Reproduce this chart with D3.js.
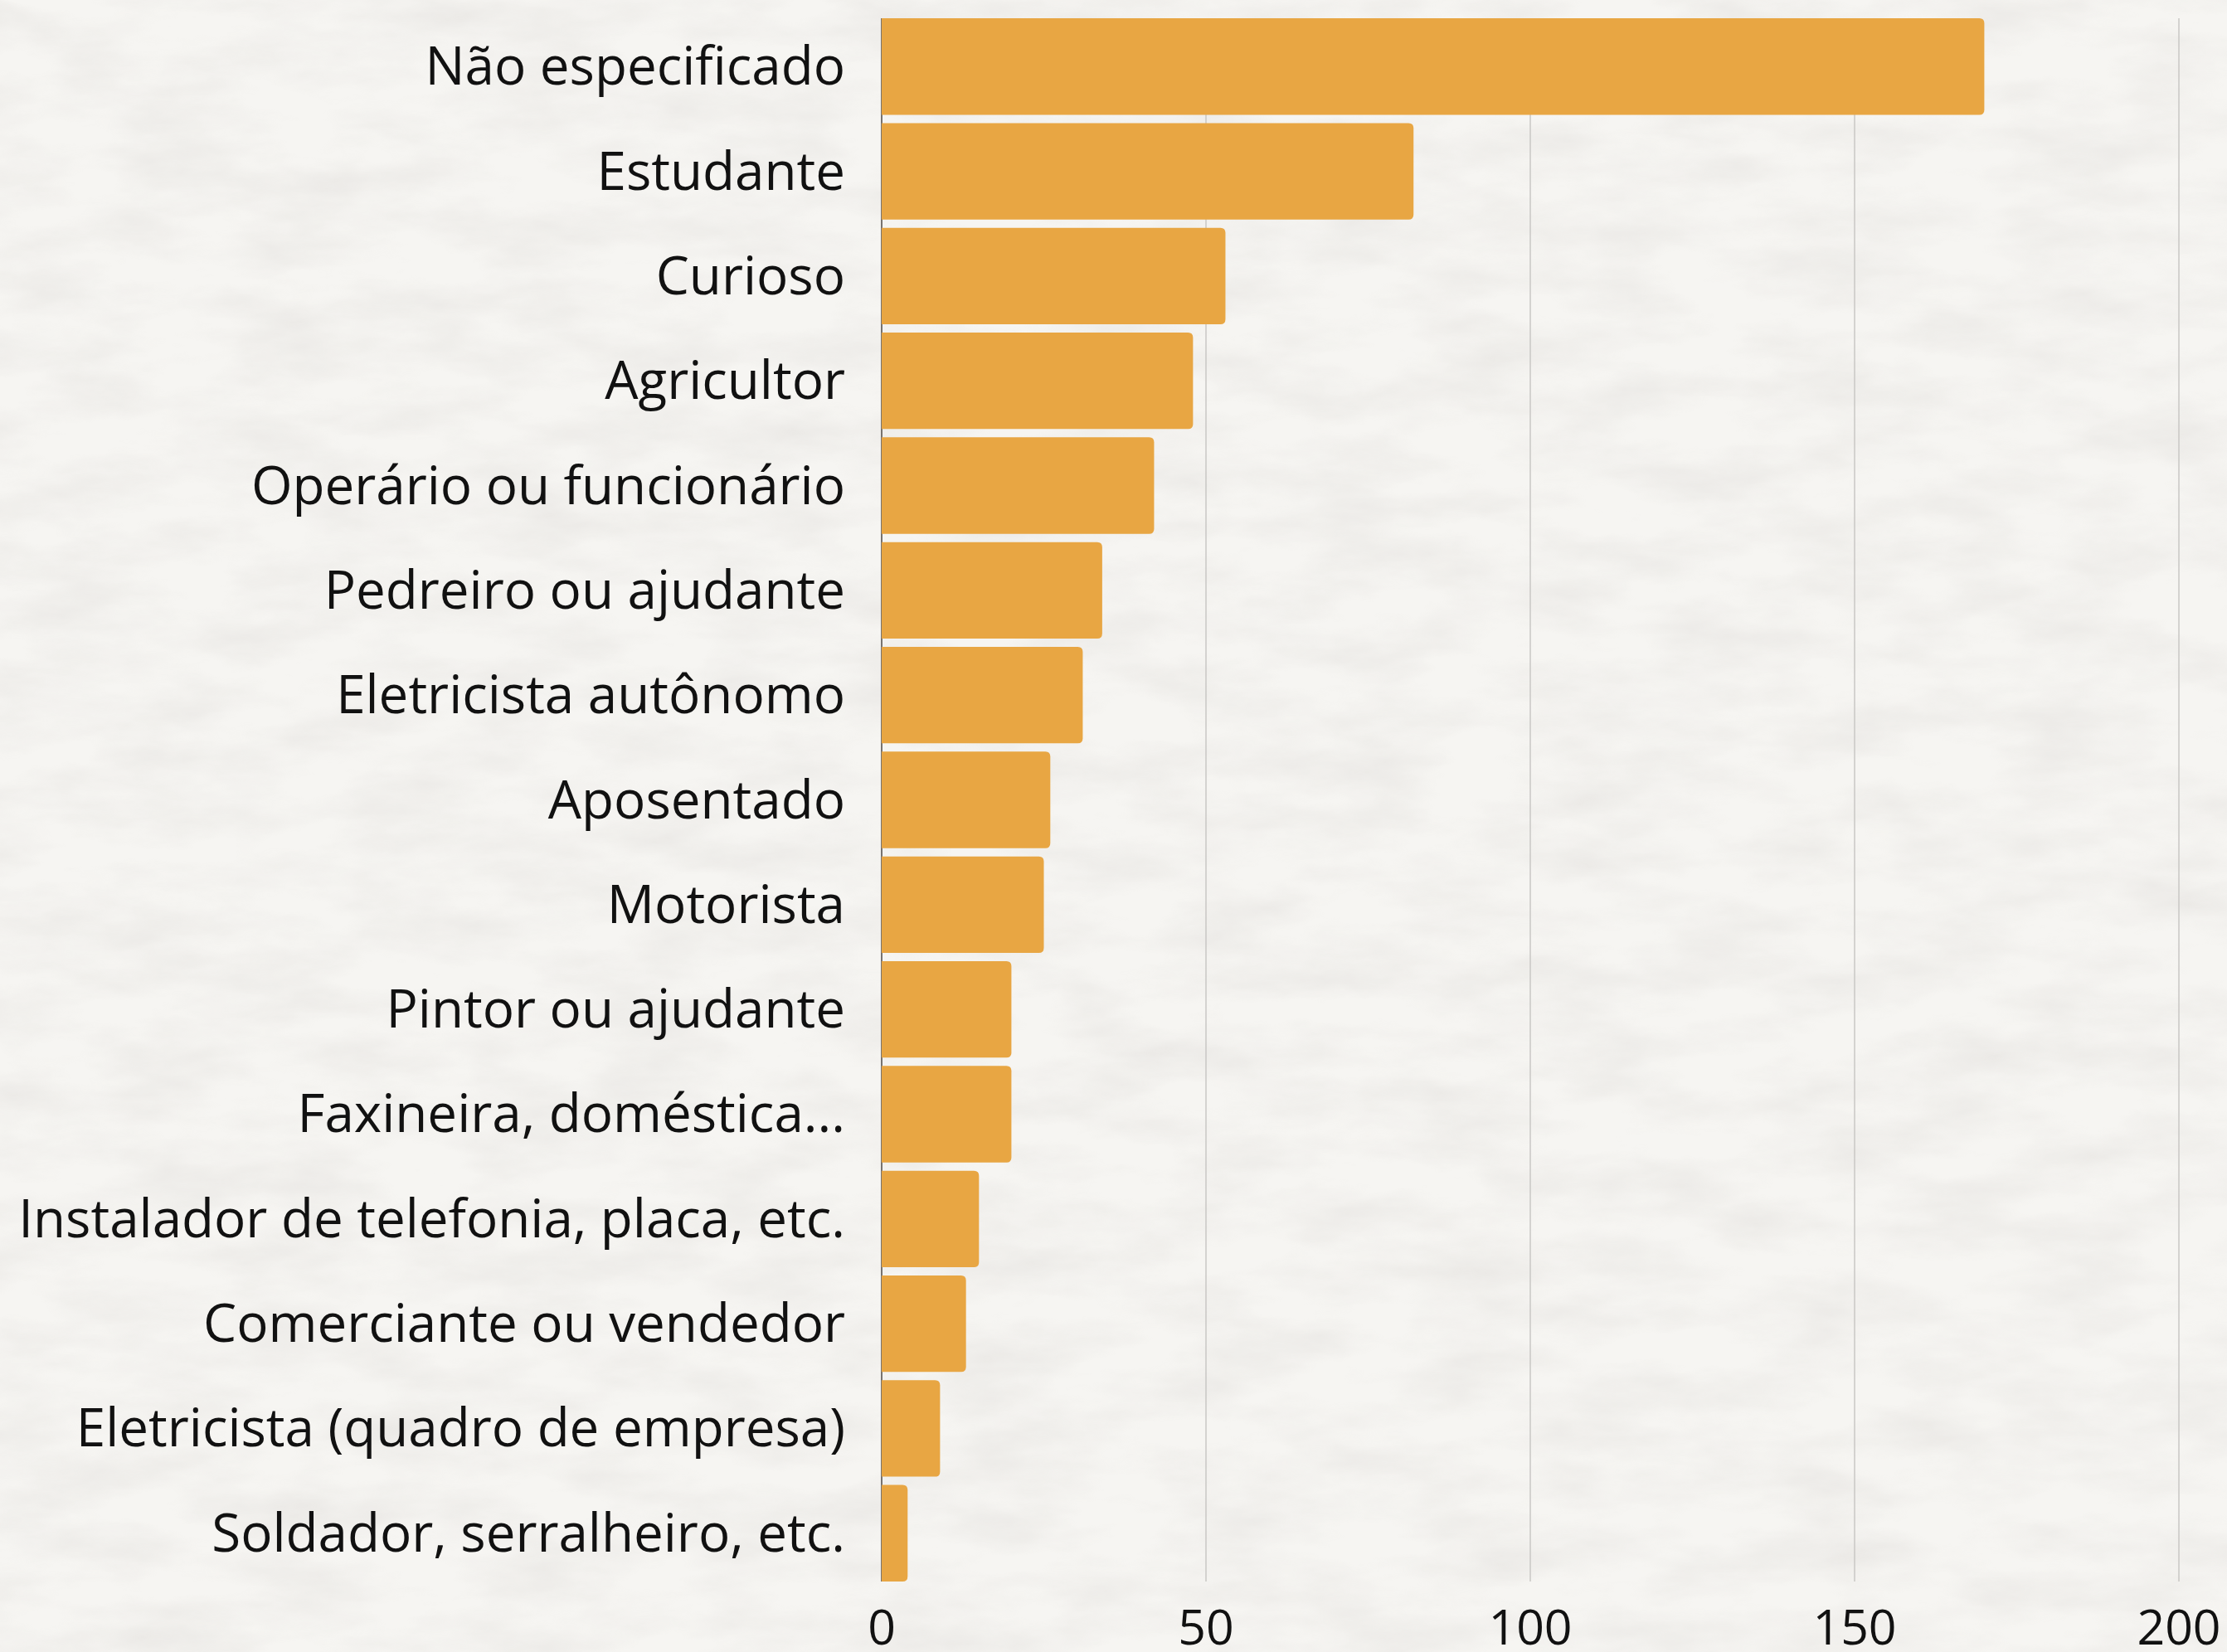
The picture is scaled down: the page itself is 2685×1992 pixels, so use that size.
<!DOCTYPE html>
<html>
<head>
<meta charset="utf-8">
<script src="https://cdn.jsdelivr.net/npm/d3@7"></script>
<style>
body{margin:0;padding:0;background:#f4f3f0;overflow:hidden;}
svg{display:block;}
</style>
</head>
<body>
<script>
// data
var categories = ["Não especificado","Estudante","Curioso","Agricultor","Operário ou funcionário",
    "Pedreiro ou ajudante","Eletricista autônomo","Aposentado","Motorista","Pintor ou ajudante",
    "Faxineira, doméstica...","Instalador de telefonia, placa, etc.","Comerciante ou vendedor",
    "Eletricista (quadro de empresa)","Soldador, serralheiro, etc."];
var values = [170,82,53,48,42,34,31,26,25,20,20,15,13,9,4];
var tickValues = [0,50,100,150,200];

var width = 2685, height = 1992;
var margin = {left:1063, right:58, top:17, bottom:75};
var barColor = "#e8a643";

function makeVisualization(){//build the chart
    var svg = d3.select("body").append("svg")//canvas
        .attr("width", width)
        .attr("height", height);

    // paper texture background
    var defs = svg.append("defs");
    var filt = defs.append("filter").attr("id","paper")
        .attr("x",0).attr("y",0).attr("width","100%").attr("height","100%");
    filt.append("feTurbulence").attr("type","fractalNoise")
        .attr("baseFrequency","0.007 0.02").attr("numOctaves",5).attr("seed",7);
    filt.append("feColorMatrix").attr("type","matrix")
        .attr("values","0 0 0 0 0.55  0 0 0 0 0.52  0 0 0 0 0.5  0 0 0 -1.2 0.78");
    svg.append("rect").attr("width",width).attr("height",height).attr("fill","#f6f5f2");
    svg.append("rect").attr("width",width).attr("height",height)
        .attr("filter","url(#paper)").attr("opacity",0.3);

    var xScale = d3.scaleLinear()
        .domain([0,200])//value range
        .range([margin.left, width - margin.right]);//pixel range
    var yScale = d3.scaleBand()
        .domain(categories)
        .range([margin.top, height - margin.bottom - 5])
        .paddingInner(0.079)
        .paddingOuter(0.04);

    var yTop = yScale(categories[0]);
    var yBottom = yScale(categories[categories.length-1]) + yScale.bandwidth();

    // vertical gridlines
    svg.append("g").selectAll("line")
        .data(tickValues.slice(1))
        .enter().append("line")
        .attr("x1", function(d){return xScale(d);})
        .attr("x2", function(d){return xScale(d);})
        .attr("y1", yTop).attr("y2", yBottom)
        .attr("stroke","#c9c7c4").attr("stroke-width",1.5);

    // zero axis line
    svg.append("line")
        .attr("x1", xScale(0)).attr("x2", xScale(0))
        .attr("y1", yTop).attr("y2", yBottom)
        .attr("stroke","#77736f").attr("stroke-width",2);

    // bars with rounded right corners
    var r = 6;
    svg.append("g").selectAll("path")
        .data(values)
        .enter().append("path")
        .attr("fill", barColor)
        .attr("d", function(d,i){
            var x0 = xScale(0), x1 = xScale(d);
            var y0 = yScale(categories[i]), h = yScale.bandwidth();
            var rr = Math.min(r, (x1-x0)/2);
            return "M"+x0+","+y0+"H"+(x1-rr)+"Q"+x1+","+y0+" "+x1+","+(y0+rr)
                +"V"+(y0+h-rr)+"Q"+x1+","+(y0+h)+" "+(x1-rr)+","+(y0+h)+"H"+x0+"Z";
        });

    // category labels
    var fontFamily = "'Open Sans', 'Noto Sans', sans-serif";
    var fontSize = 60;
    var labels = svg.append("g").selectAll("text")
        .data(categories)
        .enter().append("text")
        .attr("x", margin.left - 44)
        .attr("y", function(d){return yScale(d) + yScale.bandwidth()/2 + 22;})
        .attr("text-anchor","end")
        .attr("font-family", fontFamily)
        .attr("fill","#111")
        .text(function(d){return d;});
    labels.attr("font-size", fontSize);
    // fit the longest label to its width in the picture
    var longest = labels.filter(function(d){return d == "Instalador de telefonia, placa, etc.";}).node();
    var w = longest.getComputedTextLength();
    var fitted = fontSize * 997 / w;
    labels.attr("font-size", fitted);

    // x tick labels
    svg.append("g").selectAll("text")
        .data(tickValues)
        .enter().append("text")
        .attr("x", function(d){return xScale(d);})
        .attr("y", 1983)
        .attr("text-anchor","middle")
        .attr("font-family", fontFamily)
        .attr("font-size", 59)
        .attr("fill","#111")
        .text(function(d){return d;});
}

makeVisualization();
</script>
</body>
</html>
